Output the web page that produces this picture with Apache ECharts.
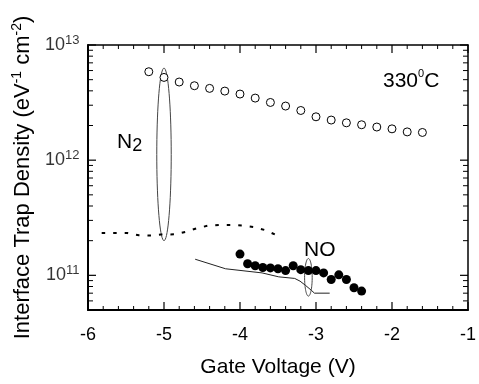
<!DOCTYPE html>
<html>
<head>
<meta charset="utf-8">
<script src="https://cdn.jsdelivr.net/npm/echarts@6/dist/echarts.min.js"></script>
<style>
  html, body { margin: 0; padding: 0; background: #fff; }
  #chart { width: 479px; height: 384px; }
</style>
</head>
<body>
<div id="chart"></div>
<script>
// N2 anneal, open circles
const n2CircleV = [-5.2, -5.0, -4.8, -4.6, -4.4, -4.2, -4.0, -3.8, -3.6, -3.4, -3.2, -3.0, -2.8, -2.6, -2.4, -2.2, -2.0, -1.8, -1.6]
const n2CircleDit = [5.86e12, 5.23e12, 4.77e12, 4.43e12, 4.20e12, 3.98e12, 3.75e12, 3.46e12, 3.17e12, 2.95e12, 2.70e12, 2.38e12, 2.23e12, 2.11e12, 2.03e12, 1.94e12, 1.87e12, 1.76e12, 1.74e12]

// N2 anneal, dashed curve
const n2DashV = [-5.82, -5.63, -5.48, -5.33, -5.17, -5.04, -4.86, -4.72, -4.57, -4.42, -4.27, -4.11, -3.95, -3.82, -3.66, -3.52]
const n2DashDit = [2.33e11, 2.33e11, 2.33e11, 2.23e11, 2.22e11, 2.26e11, 2.27e11, 2.38e11, 2.56e11, 2.70e11, 2.74e11, 2.74e11, 2.70e11, 2.63e11, 2.46e11, 2.23e11]

// NO anneal, filled dots
const noDotV = [-4.0, -3.9, -3.8, -3.7, -3.6, -3.5, -3.4, -3.3, -3.2, -3.1, -3.0, -2.9, -2.8, -2.7, -2.6, -2.5, -2.4]
const noDotDit = [1.53e11, 1.26e11, 1.21e11, 1.17e11, 1.16e11, 1.14e11, 1.10e11, 1.21e11, 1.12e11, 1.10e11, 1.10e11, 1.05e11, 9.2e10, 1.01e11, 9.2e10, 7.8e10, 7.3e10]

// NO anneal, solid curve
const noLineV = [-4.59, -4.19, -3.71, -3.49, -3.28, -3.21, -3.14, -3.06, -3.02, -2.82]
const noLineDit = [1.38e11, 1.14e11, 1.05e11, 9.7e10, 9.4e10, 8.9e10, 8.2e10, 7.4e10, 7.0e10, 7.0e10]

// ellipses grouping the data: [centre V, low Dit, high Dit, half width V]
const groupEllipses = [
    [-5.0, 2.0e11, 6.3e12, 0.095],
    [-3.1, 6.6e10, 1.4e11, 0.05]
]

// axis ranges and ticks
const xMin = -6
const xMax = -1
const yMin = 5e10
const yMax = 1e13
const xMajorTicks = [-6, -5, -4, -3, -2, -1]
const xMinorSteps = [0.2, 0.4, 0.6, 0.8]
const yTickExponents = [11, 12, 13]
const yMinorMultipliers = [2, 3, 4, 5, 6, 7, 8, 9]
const yDecades = [10, 11, 12]

const xMinorTicks = []
xMajorTicks.slice(0, -1).forEach(t => xMinorSteps.forEach(s => xMinorTicks.push(+(t + s).toFixed(2))))

const yMajorTicks = yTickExponents.map(e => Math.pow(10, e))
const yMinorTicks = []
yDecades.forEach(d => yMinorMultipliers.forEach(m => {
    const v = m * Math.pow(10, d)
    if (v > yMin && v < yMax) yMinorTicks.push(v)
}))

const zip = (a, b) => a.map((v, i) => [v, b[i]])

const FONT = 'Liberation Sans, Arial, Helvetica, sans-serif'

// a tick drawn as a thin black rect symbol sitting on the frame
function tickSeries(data, size, offset) {
    return {
        type: 'scatter',
        data: data,
        symbol: 'rect',
        symbolSize: size,
        symbolOffset: offset,
        clip: false,
        silent: true,
        z: 5,
        itemStyle: { color: '#000', opacity: 1 }
    }
}

const chart = echarts.init(document.getElementById('chart'))

const xAxisBase = {
    type: 'value',
    min: xMin,
    max: xMax,
    interval: 1,
    axisLine: { show: true, lineStyle: { color: '#000', width: 2 } },
    axisTick: { show: false },
    minorTick: { show: false },
    splitLine: { show: false },
    minorSplitLine: { show: false }
}

const yAxisBase = {
    type: 'log',
    logBase: 10,
    min: yMin,
    max: yMax,
    axisLine: { show: true, lineStyle: { color: '#000', width: 2 } },
    axisTick: { show: false },
    axisLabel: { show: false },
    splitLine: { show: false }
}

const option = {
    animation: false,
    grid: { left: 88, right: 8, top: 45, bottom: 74 },
    xAxis: [
        Object.assign({}, xAxisBase, {
            position: 'bottom',
            name: 'Gate Voltage (V)',
            nameLocation: 'middle',
            nameGap: 47,
            nameTextStyle: { color: '#000', fontSize: 21, fontFamily: FONT },
            axisLabel: { color: '#000', fontSize: 18, margin: 16, fontFamily: FONT }
        }),
        Object.assign({}, xAxisBase, {
            position: 'top',
            axisLine: { show: true, lineStyle: { color: '#000', width: 1.5 } },
            axisLabel: { show: false }
        })
    ],
    yAxis: [
        Object.assign({}, yAxisBase, {
            position: 'left',
            name: '{t|Interface Trap Density (eV}{s|-1}{t| cm}{s|-2}{t|)}',
            nameLocation: 'middle',
            nameGap: 53,
            nameTextStyle: {
                color: '#000',
                fontFamily: FONT,
                rich: {
                    t: { fontSize: 22, lineHeight: 25, color: '#000', fontFamily: FONT },
                    s: { fontSize: 14, lineHeight: 14, verticalAlign: 'top', color: '#000', fontFamily: FONT }
                }
            }
        }),
        Object.assign({}, yAxisBase, {
            position: 'right',
            axisLine: { show: true, lineStyle: { color: '#000', width: 1.5 } }
        })
    ],
    graphic: [
        {
            type: 'text', left: 117, top: 132, z: 10,
            style: {
                text: '{n|N}{u|2}',
                rich: {
                    n: { fontSize: 21, lineHeight: 26, fill: '#000', fontFamily: FONT },
                    u: { fontSize: 18, lineHeight: 18, verticalAlign: 'bottom', fill: '#000', fontFamily: FONT }
                }
            }
        },
        {
            type: 'text', left: 383, top: 68, z: 10,
            style: {
                text: '{b|330}{s|0}{b|C}',
                rich: {
                    b: { fontSize: 21, lineHeight: 26, fill: '#000', fontFamily: FONT },
                    s: { fontSize: 11, lineHeight: 11, verticalAlign: 'top', fill: '#000', fontFamily: FONT }
                }
            }
        },
        {
            type: 'text', left: 304, top: 240, z: 10,
            style: { text: 'NO', fontSize: 21, fill: '#000', fontFamily: FONT }
        }
    ],
    series: [
        // frame ticks, all pointing inward
        tickSeries(xMajorTicks.map(x => [x, yMin]), [1.2, 8], [0, -4]),
        tickSeries(xMajorTicks.map(x => [x, yMax]), [1.2, 8], [0, 4]),
        tickSeries(xMinorTicks.map(x => [x, yMin]), [1, 4], [0, -2]),
        tickSeries(xMinorTicks.map(x => [x, yMax]), [1, 4], [0, 2]),
        tickSeries(yMajorTicks.map(v => [xMin, v]), [8, 1.2], [4, 0]),
        tickSeries(yMajorTicks.map(v => [xMax, v]), [8, 1.2], [-4, 0]),
        tickSeries(yMinorTicks.map(v => [xMin, v]), [5, 1], [2.5, 0]),
        tickSeries(yMinorTicks.map(v => [xMax, v]), [5, 1], [-2.5, 0]),
        // y tick labels 10^n
        {
            name: 'y labels',
            type: 'scatter',
            data: yTickExponents.map(e => [xMin, Math.pow(10, e), e]),
            symbol: 'rect',
            symbolSize: 1,
            clip: false,
            silent: true,
            itemStyle: { color: 'rgba(0,0,0,0)' },
            label: {
                show: true,
                position: 'left',
                distance: 8,
                formatter: p => '{b|10}{s|' + p.value[2] + '}',
                rich: {
                    b: { fontSize: 18, lineHeight: 22, color: '#000', fontFamily: FONT },
                    s: { fontSize: 13, lineHeight: 13, verticalAlign: 'top', color: '#000', fontFamily: FONT }
                }
            }
        },
        {
            name: 'N2 circles',
            type: 'scatter',
            data: zip(n2CircleV, n2CircleDit),
            symbol: 'circle',
            symbolSize: 8,
            itemStyle: { color: '#fff', borderColor: '#000', borderWidth: 1, opacity: 1 }
        },
        {
            name: 'N2 dashed',
            type: 'line',
            data: zip(n2DashV, n2DashDit),
            showSymbol: false,
            lineStyle: { color: '#000', width: 2, type: [3.5, 8] }
        },
        {
            name: 'NO line',
            type: 'line',
            data: zip(noLineV, noLineDit),
            showSymbol: false,
            lineStyle: { color: '#222', width: 1 }
        },
        {
            name: 'NO dots',
            type: 'scatter',
            data: zip(noDotV, noDotDit),
            symbol: 'circle',
            symbolSize: 9,
            itemStyle: { color: '#000', opacity: 1 }
        },
        {
            name: 'ellipses',
            type: 'custom',
            data: groupEllipses,
            encode: { x: 0, y: [1, 2] },
            renderItem: function (params, api) {
                const x = api.value(0)
                const top = api.coord([x, api.value(2)])
                const bottom = api.coord([x, api.value(1)])
                const side = api.coord([x + api.value(3), api.value(1)])
                const cx = top[0]
                const cy = (top[1] + bottom[1]) / 2
                const rx = side[0] - top[0]
                const ry = (bottom[1] - top[1]) / 2
                const pts = []
                for (let i = 0; i < 72; i++) {
                    const a = i / 72 * Math.PI * 2
                    pts.push([cx + rx * Math.cos(a), cy + ry * Math.sin(a)])
                }
                return {
                    type: 'polygon',
                    shape: { points: pts },
                    style: { fill: 'none', stroke: '#444', lineWidth: 1 }
                }
            }
        }
    ]
}

chart.setOption(option)
</script>
</body>
</html>
